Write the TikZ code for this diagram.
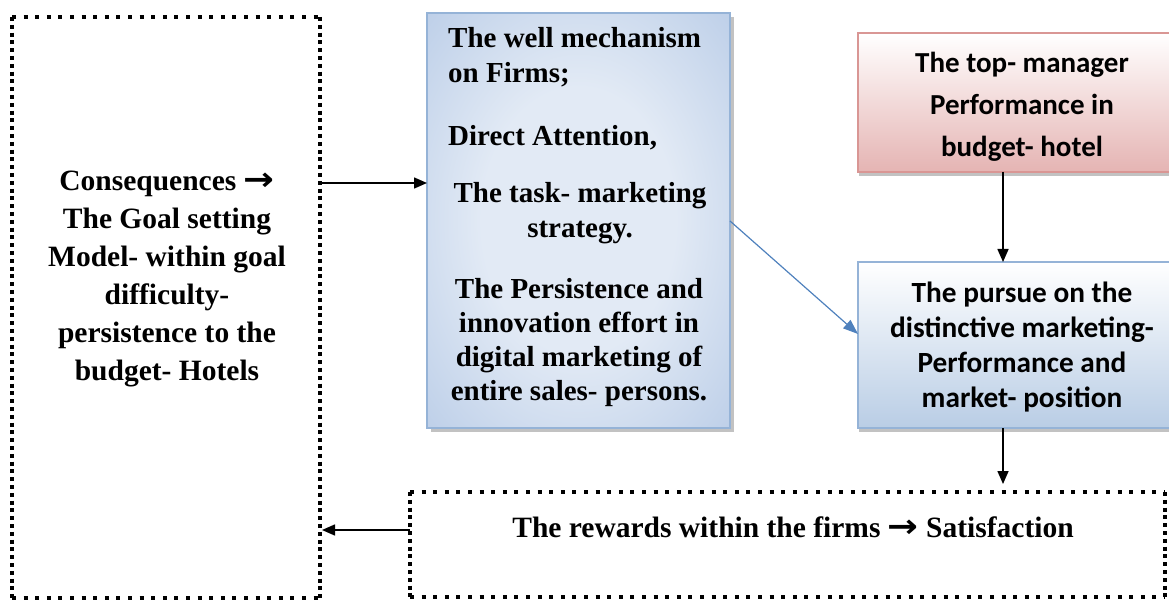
\documentclass[tikz,border=0pt]{standalone}
\usepackage{fontspec}
\setmainfont{Liberation Serif}
\newfontfamily\calfont{Carlito}
\newfontfamily\arrfont{DejaVu Sans}
\usetikzlibrary{arrows.meta,shadows}
\definecolor{boxblue}{HTML}{95B3D7}
\definecolor{deepblue}{HTML}{4F81BD}
\definecolor{lightblue}{HTML}{B9CDE5}
\definecolor{midcore}{HTML}{E2EAF5}
\definecolor{midmid}{HTML}{B9CCE7}
\definecolor{midedge}{HTML}{8AA8D3}
\definecolor{rose}{HTML}{E5B4B3}
\definecolor{roseedge}{HTML}{D99694}
\pgfdeclareradialshading{midshade}{\pgfpoint{0bp}{0bp}}{color(0bp)=(midcore); color(16bp)=(midcore); color(38bp)=(midmid); color(71bp)=(midedge)}
\newcommand{\rarr}{\scalebox{1.25}[1.1]{\arrfont\bfseries →}}
\begin{document}
\begin{tikzpicture}[x=1pt,y=-1pt,
  dotbox/.style={draw=none, inner sep=0pt, outer sep=0pt},
  hdots/.style={line width=4pt, dash pattern=on 4pt off 7.6pt},
  vdots/.style={line width=4pt, dash pattern=on 4pt off 3.8pt},
  arr/.style={line width=1.5pt, -{Triangle[length=13pt,width=11pt]}},
  bluearr/.style={draw=deepblue, line width=1.2pt, -{Triangle[length=15pt,width=11pt]}},
  ltxt/.style={font=\bfseries\fontsize{29.5}{38}\selectfont, inner sep=0pt, align=center},
  mtxt/.style={font=\bfseries\fontsize{29}{35}\selectfont, inner sep=0pt},
  mtxt2/.style={font=\bfseries\fontsize{29}{34}\selectfont, inner sep=0pt},
  rtxt/.style={font=\calfont\bfseries\fontsize{29}{42}\selectfont, inner sep=0pt, align=center},
  btxt/.style={font=\calfont\bfseries\fontsize{29.3}{35}\selectfont, inner sep=0pt, align=center},
  midbox/.style={draw=boxblue, line width=1.5pt, inner sep=0pt, outer sep=0pt,
    shading=midshade,
    drop shadow={shadow xshift=4pt, shadow yshift=-4pt, fill=black!40, opacity=0.6}},
  rosebox/.style={draw=roseedge, line width=2pt, inner sep=0pt, outer sep=0pt,
    top color=white, bottom color=rose,
    drop shadow={shadow xshift=1pt, shadow yshift=-4pt, fill=black!40, opacity=0.6}},
  bluebox/.style={draw=boxblue, line width=2pt, inner sep=0pt, outer sep=0pt,
    top color=white, bottom color=lightblue,
    drop shadow={shadow xshift=1pt, shadow yshift=-4pt, fill=black!40, opacity=0.6}}
]
\useasboundingbox (0,0) rectangle (1169,601);
\clip (0,0) rectangle (1169,601);

% left dotted box
\node[dotbox, minimum width=308pt, minimum height=581pt] (left) at (166,307.5) {};
\draw[hdots] (left.north west) -- (left.north east);
\draw[hdots] (left.south west) -- (left.south east);
\draw[vdots] (left.north west) -- (left.south west);
\draw[vdots] (left.north east) -- (left.south east);
\node[ltxt, anchor=base] (lefttxt) at (167,380)
  {Consequences \rarr\\The Goal setting\\Model- within goal\\difficulty-\\persistence to the\\budget- Hotels};

% middle box
\node[midbox, minimum width=303pt, minimum height=415pt] (mid) at (578.5,220.5) {};
\node[mtxt, anchor=base west, align=left] (m1) at (448,83) {The well mechanism\\on Firms;};
\node[mtxt, anchor=base west, align=left] (m2) at (448,146) {Direct Attention,};
\node[mtxt, anchor=base, align=center] (m3) at (580,238) {The task- marketing\\strategy.};
\node[mtxt2, anchor=base, align=center] (m4) at (579,400)
  {The Persistence and\\innovation effort in\\digital marketing of\\entire sales- persons.};

% right boxes
\node[rosebox, minimum width=328pt, minimum height=139pt] (rtop) at (1022,102.5) {};
\node[rtxt, anchor=base] (rt) at (1022,157) {The top- manager\\Performance in\\budget- hotel};
\node[bluebox, minimum width=328pt, minimum height=166pt] (rbot) at (1022,345) {};
\node[btxt, anchor=base] (rb) at (1022,407)
  {The pursue on the\\distinctive marketing-\\Performance and\\market- position};

% bottom dotted box
\node[dotbox, minimum width=755pt, minimum height=105pt] (bot) at (787.5,544.5) {};
\draw[hdots] (bot.north west) -- (bot.north east);
\draw[hdots] (bot.south west) -- (bot.south east);
\draw[vdots] (bot.north west) -- (bot.south west);
\draw[vdots] (bot.north east) -- (bot.south east);
\node[ltxt, anchor=base] (bt) at (793,537) {The rewards within the firms \rarr{} Satisfaction};

% connectors
\coordinate (y1) at (0,183);
\coordinate (y2) at (0,530);
\coordinate (xa) at (1003,0);
\coordinate (d1) at (0,221);
\coordinate (d2) at (0,334);
\draw[arr] (left.east |- y1) -- (mid.west |- y1);
\draw[arr, shorten >=2pt] (bot.west |- y2) -- (left.east |- y2);
\draw[arr] (rtop.south -| xa) -- (rbot.north -| xa);
\draw[arr, shorten >=8pt] (rbot.south -| xa) -- (bot.north -| xa);
\draw[bluearr] (mid.east |- d1) -- (rbot.west |- d2);
\end{tikzpicture}
\end{document}
